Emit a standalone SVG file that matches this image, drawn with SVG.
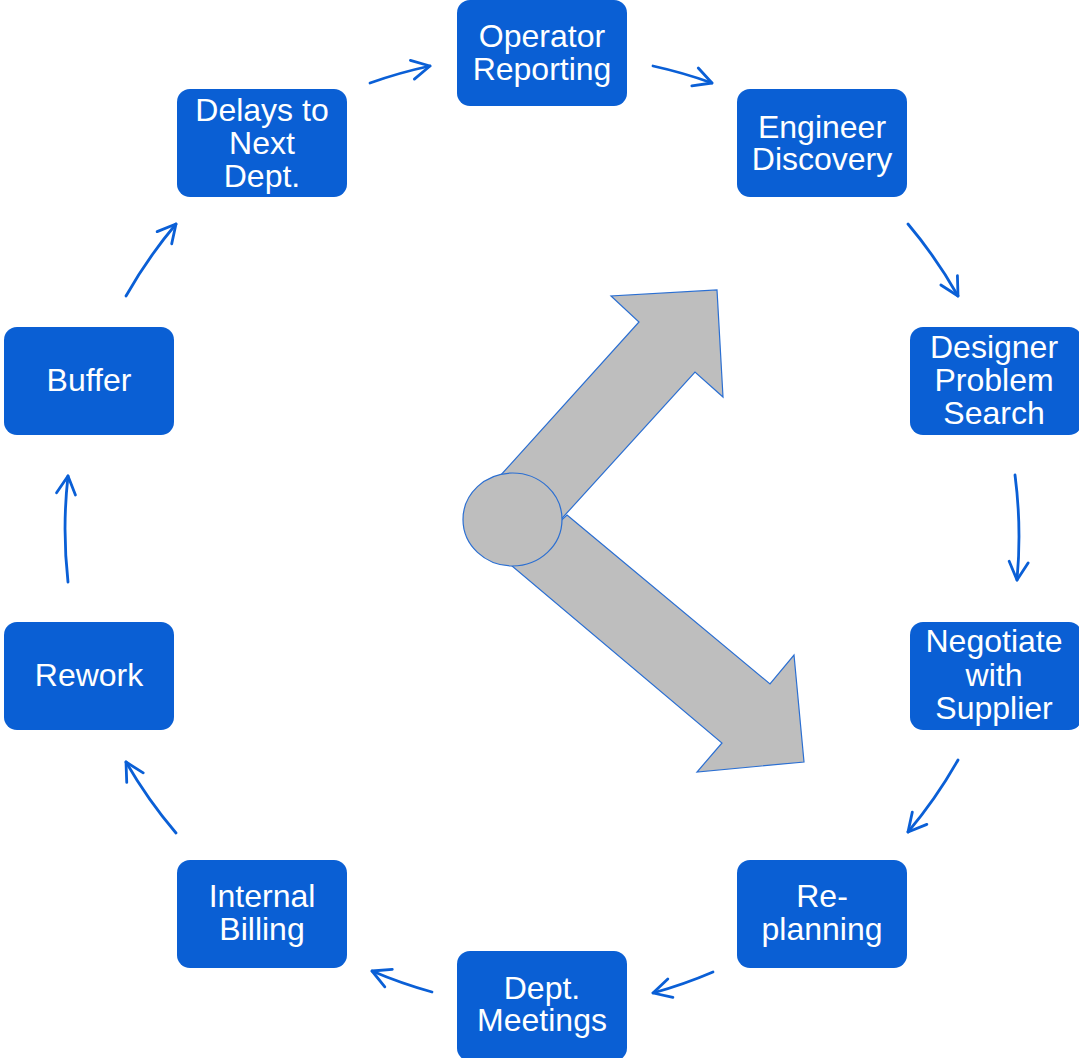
<svg xmlns="http://www.w3.org/2000/svg" width="1079" height="1058" viewBox="0 0 1079 1058">
  <defs>
    <style>
      .box { fill: #0A5FD4; }
      .lbl { fill: #FFFFFF; font-family: "Liberation Sans", Arial, sans-serif; font-size: 32px; text-anchor: middle; }
      .link { fill: none; stroke: #0A5FD6; stroke-width: 2.8; stroke-linecap: round; marker-end: url(#chev); }
      .big { fill: #BEBEBE; stroke: #2B6FD2; stroke-width: 1.2; stroke-linejoin: miter; }
    </style>
    <marker id="chev" markerUnits="userSpaceOnUse" viewBox="-22 -13 26 26" refX="0" refY="0" markerWidth="26" markerHeight="26" orient="auto">
      <path d="M-18,-9.5 L0,0 L-18,9.5" fill="none" stroke="#0A5FD6" stroke-width="2.8" stroke-linecap="round" stroke-linejoin="round"/>
    </marker>
  </defs>

  <rect width="1079" height="1058" fill="#FFFFFF"/>

  <!-- central gray block arrows with hub -->
  <g id="hub">
    <polygon class="big" points="490,487 639,322 611,296 717,290 723,397 695,372 555,526"/>
    <polygon class="big" points="567,515 770,684 794,655 804,762 697,772 722,743 512,566"/>
    <ellipse class="big" cx="512.5" cy="519.5" rx="49.5" ry="46.5"/>
  </g>

  <!-- cycle connectors: arcs of one circle, clockwise -->
  <g id="connectors">
    <path class="link" d="M370,83 A476,476 0 0 1 430,66"/>
    <path class="link" d="M653,66 A476,476 0 0 1 712,83"/>
    <path class="link" d="M908,224 A476,476 0 0 1 958,296"/>
    <path class="link" d="M1015,475 A476,476 0 0 1 1017,580"/>
    <path class="link" d="M958,760 A476,476 0 0 1 908,832"/>
    <path class="link" d="M713,972 A476,476 0 0 1 653,993"/>
    <path class="link" d="M432,992 A476,476 0 0 1 372,971"/>
    <path class="link" d="M176,833 A476,476 0 0 1 126,762"/>
    <path class="link" d="M68,582 A476,476 0 0 1 68,476"/>
    <path class="link" d="M126,296 A476,476 0 0 1 176,224"/>
  </g>

  <g id="operator-reporting">
    <rect class="box" x="457" y="0" width="170" height="106" rx="13"/>
    <text class="lbl" x="542" y="47">Operator</text>
    <text class="lbl" x="542" y="80">Reporting</text>
  </g>

  <g id="engineer-discovery">
    <rect class="box" x="737" y="89" width="170" height="108" rx="13"/>
    <text class="lbl" x="822" y="138">Engineer</text>
    <text class="lbl" x="822" y="170">Discovery</text>
  </g>

  <g id="designer-problem-search">
    <rect class="box" x="910" y="327" width="172" height="108" rx="13"/>
    <text class="lbl" x="994" y="358">Designer</text>
    <text class="lbl" x="994" y="391">Problem</text>
    <text class="lbl" x="994" y="424">Search</text>
  </g>

  <g id="negotiate-with-supplier">
    <rect class="box" x="910" y="622" width="172" height="108" rx="13"/>
    <text class="lbl" x="994" y="652">Negotiate</text>
    <text class="lbl" x="994" y="686">with</text>
    <text class="lbl" x="994" y="719">Supplier</text>
  </g>

  <g id="re-planning">
    <rect class="box" x="737" y="860" width="170" height="108" rx="13"/>
    <text class="lbl" x="822" y="907">Re-</text>
    <text class="lbl" x="822" y="940">planning</text>
  </g>

  <g id="dept-meetings">
    <rect class="box" x="457" y="951" width="170" height="110" rx="13"/>
    <text class="lbl" x="542" y="999">Dept.</text>
    <text class="lbl" x="542" y="1031">Meetings</text>
  </g>

  <g id="internal-billing">
    <rect class="box" x="177" y="860" width="170" height="108" rx="13"/>
    <text class="lbl" x="262" y="907">Internal</text>
    <text class="lbl" x="262" y="940">Billing</text>
  </g>

  <g id="rework">
    <rect class="box" x="4" y="622" width="170" height="108" rx="13"/>
    <text class="lbl" x="89" y="686">Rework</text>
  </g>

  <g id="buffer">
    <rect class="box" x="4" y="327" width="170" height="108" rx="13"/>
    <text class="lbl" x="89" y="391">Buffer</text>
  </g>

  <g id="delays-to-next-dept">
    <rect class="box" x="177" y="89" width="170" height="108" rx="13"/>
    <text class="lbl" x="262" y="121">Delays to</text>
    <text class="lbl" x="262" y="154">Next</text>
    <text class="lbl" x="262" y="187">Dept.</text>
  </g>
</svg>
